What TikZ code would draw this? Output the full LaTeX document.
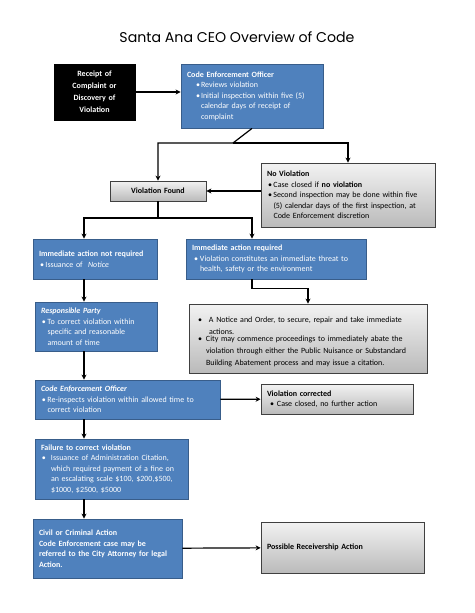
\documentclass[tikz,border=0pt]{standalone}
\usepackage{fontspec}
\setmainfont{Carlito}
\newfontfamily\titlefont{Poppins}
\usetikzlibrary{arrows.meta,shadows}

\definecolor{boxblue}{HTML}{4F81BD}
\definecolor{boxline}{HTML}{385D8A}

\setlength\parindent{0pt}
\setlength\parskip{0pt}

% bullet item: indent, width of bullet slot, text
\newcommand\itmw[3]{\par\hspace*{#1}\makebox[#2][l]{\textbullet}%
	\parbox[t]{\dimexpr\hsize-#1-#2\relax}{\raggedright #3}\par}
\newcommand\itm[1]{\itmw{1pt}{5.5pt}{#1}}

\tikzset{
	box/.style={minimum height=#1, inner xsep=6pt, inner ysep=0pt, line width=0.8pt,
		font=\fontsize{8}{10.5}\selectfont,
		drop shadow={opacity=0.25,shadow xshift=1.2pt,shadow yshift=-1.2pt}},
	bluebox/.style={box=#1, fill=boxblue, draw=boxline, text=white, align=left},
	graybox/.style={box=#1, draw=black!75, top color=black!5, bottom color=black!27, align=left},
	link/.style={-{Stealth[length=5pt,width=5pt]}, line width=1.2pt},
}

\begin{document}
\begin{tikzpicture}[x=1pt,y=-1pt]
	\useasboundingbox (0,0) rectangle (474,613);

	\node (title) at (237,37) {\resizebox{235pt}{!}{\titlefont Santa Ana CEO Overview of Code}};

	% top row
	\node[box=56pt, fill=black, draw=black, text=white, text width=69pt, align=center,
		font=\fontsize{8}{12}\selectfont\bfseries] (rcpt) at (94.5,92)
		{Receipt of\\ Complaint or\\ Discovery of\\ Violation};
	\node[bluebox=64pt, text width=130pt] (ceo) at (252,96)
		{\textbf{Code Enforcement Officer}
		\itmw{9pt}{5pt}{Reviews violation}
		\itmw{9pt}{5pt}{Initial inspection within five (5)\\ calendar days of receipt of\\ complaint}};

	% inspection result
	\node[graybox=20pt, text width=84pt, align=center, font=\fontsize{8}{10.5}\selectfont\bfseries] (found) at (158,191)
		{Violation Found};
	\node[graybox=64pt, text width=162pt] (noviol) at (348,195)
		{\textbf{No Violation}
		\itm{Case closed if \textbf{no violation}}
		\itm{Second inspection may be done within five\\ (5) calendar days of the first inspection, at\\ Code Enforcement discretion}};

	% left column
	\node[bluebox=40pt, text width=112pt] (notreq) at (95,259)
		{\textbf{Immediate action not required}
		\itm{Issuance of ~\textit{Notice}}};
	\node[bluebox=49pt, text width=110pt] (resp) at (96,326.5)
		{\textbf{\textit{Responsible Party}}
		\itm{To correct violation within\\ specific and reasonable\\ amount of time}};
	\node[bluebox=39pt, text width=173pt] (ceo2) at (127.5,399.5)
		{\textbf{\textit{Code Enforcement Officer}}
		\itm{Re-inspects violation within allowed time to\\ correct violation}};
	\node[bluebox=60pt, text width=141pt] (fail) at (111.5,469)
		{\textbf{Failure to correct violation}
		\itmw{1pt}{9pt}{Issuance of Administration Citation,\\ which required payment of a fine on\\ an escalating scale \$100, \$200,\$500,\\ \$1000, \$2500, \$5000}};
	\node[bluebox=59pt, text width=137pt, font=\fontsize{8}{10.5}\selectfont\bfseries] (civil) at (107.5,548.5)
		{Civil or Criminal Action\\ Code Enforcement case may be\\ referred to the City Attorney for legal\\ Action.};

	% right column
	\node[bluebox=40pt, text width=168pt] (req) at (276,259)
		{\textbf{Immediate action required}
		\itmw{2pt}{6pt}{Violation constitutes an immediate threat to\\ health, safety or the environment}};
	\node[graybox=69pt, text width=226pt, font=\fontsize{8}{12.3}\selectfont] (notice) at (308,338.5)
		{\itmw{3pt}{11pt}{A Notice and Order, to secure, repair and take immediate\\ actions.}
		\itmw{3pt}{8pt}{City may commence proceedings to immediately abate the\\ violation through either the Public Nuisance or Substandard\\ Building Abatement process and may issue a citation.}};
	\node[graybox=30pt, text width=140pt] (corr) at (337,399)
		{\textbf{Violation corrected}
		\itmw{3pt}{7pt}{Case closed, no further action}};
	\node[graybox=51pt, text width=151pt, font=\fontsize{8}{10.5}\selectfont\bfseries] (recv) at (342.5,547.5)
		{Possible Receivership Action};

	% connectors
	\coordinate (colL) at (84,0);
	\coordinate (split1) at (233,143);
	\coordinate (split2) at (158,218);

	\path[link]
		(rcpt.east) edge (rcpt.east -| ceo.west)
		(found.east -| noviol.west) edge (found.east)
		(ceo2) edge (corr)
		(civil) edge (recv)
		(notreq.south -| colL) edge (resp.north -| colL)
		(resp.south -| colL) edge (ceo2.north -| colL)
		(ceo2.south -| colL) edge (fail.north -| colL)
		(fail.south -| colL) edge (civil.north -| colL);

	\draw[link] (ceo.south) -- (split1) -| (found.north);
	\draw[link] (split1) -| (noviol.north);
	\draw[link] (found.south) -- (split2) -| (notreq.north -| colL);
	\draw[link] (split2) -| (req.north -| ceo.south);
	\draw[link] (req.south -| ceo.south) -- ++(0,9) -| (notice.north);
\end{tikzpicture}
\end{document}
